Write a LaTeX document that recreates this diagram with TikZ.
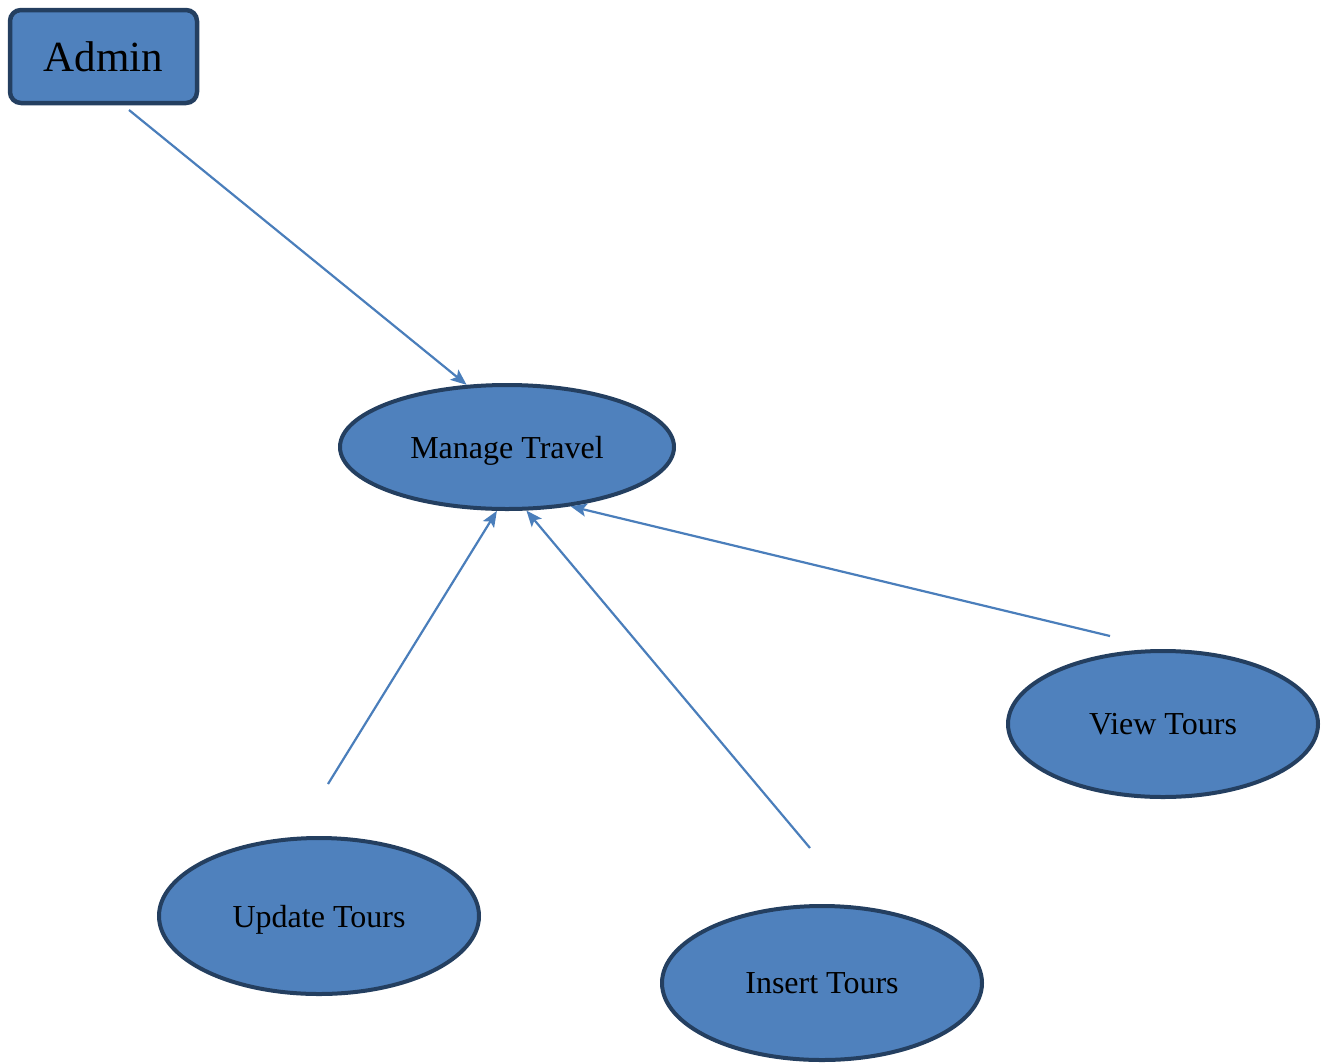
\documentclass[tikz,border=0pt]{standalone}
\usepackage{fontspec}
\setmainfont{Liberation Serif}
\usetikzlibrary{shapes.geometric,arrows.meta}
\definecolor{boxfill}{HTML}{4F81BD}
\definecolor{boxline}{HTML}{243F60}
\definecolor{arrcol}{HTML}{4A7EBB}
\tikzset{
  actor/.style={draw=boxline, fill=boxfill, line width=4.5pt, rounded corners=11pt,
    minimum width=187pt, minimum height=93pt, inner sep=0pt, font=\fontsize{43}{48}\selectfont},
  usecase/.style={ellipse, draw=boxline, fill=boxfill, line width=4pt, inner sep=0pt,
    text depth=0pt, font=\fontsize{32}{36}\selectfont},
  arr/.style={draw=arrcol, line width=2.2pt, -{Stealth[length=16pt,width=13pt,inset=3.5pt]}}
}
\begin{document}
\begin{tikzpicture}[x=1pt,y=-1pt]
\useasboundingbox (0,0) rectangle (1321,1063);
\node[actor] (admin) at (103.5,56.5) {Admin};
\node[usecase, minimum width=334pt, minimum height=124pt] (mt) at (507,447) {Manage Travel};
\node[usecase, minimum width=310pt, minimum height=146pt] (vt) at (1163,724) {View Tours};
\node[usecase, minimum width=320pt, minimum height=156pt] (ut) at (319,916) {Update Tours};
\node[usecase, minimum width=320pt, minimum height=154pt] (it) at (822,983) {Insert Tours};
\coordinate (s1) at (129,110);
\coordinate (s2) at (328,784);
\coordinate (s3) at (810,848);
\coordinate (s4) at (1110,636);
\draw[arr] (s1) -- (mt.123);
\draw[arr] (s2) -- (mt.261);
\draw[arr] (s3) -- (mt.287);
\draw[arr] (s4) -- (mt.317);
\end{tikzpicture}
\end{document}
